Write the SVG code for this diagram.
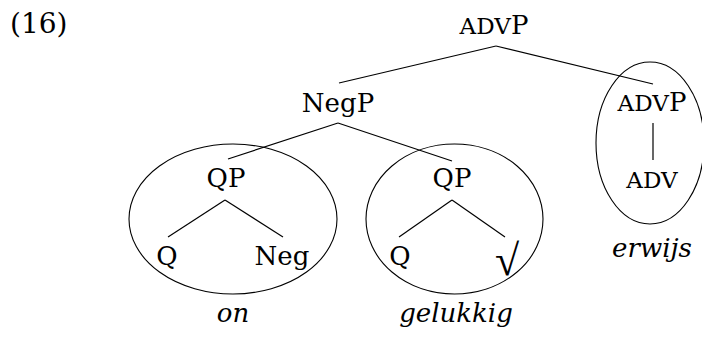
<svg xmlns="http://www.w3.org/2000/svg" width="702" height="338" viewBox="0 0 702 338">
<style>
text{font-family:"DejaVu Serif","Liberation Serif",serif;font-size:26px;fill:#000;text-anchor:middle}
.sc{font-size:23px}
.it{font-style:italic}
.l{stroke:#000;stroke-width:1.2;fill:none}
.e{stroke:#000;stroke-width:1.1;fill:none}
</style>
<rect width="702" height="338" fill="#fff"/>
<text x="10" y="33" style="text-anchor:start;font-size:28px">(16)</text>
<g id="connectors">
<line class="l" x1="496" y1="46" x2="339" y2="83"/>
<line class="l" x1="496" y1="46" x2="653" y2="84"/>
<line class="l" x1="338" y1="123" x2="228" y2="159"/>
<line class="l" x1="338" y1="123" x2="452" y2="161"/>
<line class="l" x1="225" y1="200" x2="168" y2="237"/>
<line class="l" x1="225" y1="200" x2="283" y2="237"/>
<line class="l" x1="452" y1="200" x2="399" y2="237"/>
<line class="l" x1="452" y1="200" x2="505" y2="237"/>
<line class="l" x1="653" y1="123" x2="653" y2="160"/>
</g>
<g id="ellipses">
<ellipse class="e" cx="233" cy="219" rx="104" ry="75"/>
<ellipse class="e" cx="454.5" cy="219" rx="88.5" ry="75"/>
<ellipse class="e" cx="650" cy="143" rx="54" ry="81"/>
</g>
<g id="n-advp-top"><text x="494" y="34"><tspan class="sc">ADV</tspan>P</text></g>
<g id="n-negp"><text x="338" y="112">NegP</text></g>
<g id="n-advp-right"><text x="652" y="111"><tspan class="sc">ADV</tspan>P</text></g>
<g id="n-adv"><text x="652" y="188" class="sc">ADV</text></g>
<g id="n-erwijs"><text x="652" y="257" class="it">erwijs</text></g>
<g id="n-qp1"><text x="226" y="187">QP</text></g>
<g id="n-q1"><text x="167" y="265">Q</text></g>
<g id="n-neg"><text x="282" y="265">Neg</text></g>
<g id="n-on"><text x="233" y="322" class="it">on</text></g>
<g id="n-qp2"><text x="452" y="187">QP</text></g>
<g id="n-q2"><text x="400" y="265">Q</text></g>
<g id="n-root"><text x="507" y="275" style="font-family:'Liberation Serif',serif;font-size:44px">√</text></g>
<g id="n-gelukkig"><text x="456" y="322" class="it">gelukkig</text></g>
</svg>
